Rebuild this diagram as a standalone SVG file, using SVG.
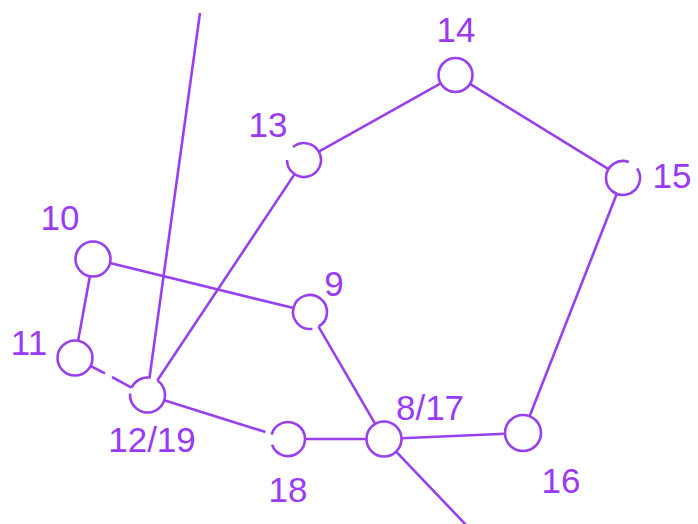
<svg xmlns="http://www.w3.org/2000/svg" width="698" height="524" viewBox="0 0 698 524">
<style>
.n{fill:none;stroke:#9840ec;stroke-width:2.6}
.e{fill:none;stroke:#9840ec;stroke-width:2.6}
.t{font-family:"Liberation Sans",Arial,sans-serif;font-size:35px;fill:#9a3af2;text-anchor:middle}
</style>
<rect width="698" height="524" fill="#ffffff"/>
<g id="connectors">
<line class="e" x1="200" y1="13" x2="149.5" y2="377.8"/>
<line class="e" x1="294.6" y1="174.1" x2="157.3" y2="380.5"/>
<line class="e" x1="318.8" y1="151.7" x2="440.7" y2="83.3"/>
<line class="e" x1="470" y1="83.9" x2="608.5" y2="169.1"/>
<line class="e" x1="616.8" y1="193.8" x2="529.6" y2="416.2"/>
<line class="e" x1="505" y1="433.8" x2="401.5" y2="438.2"/>
<line class="e" x1="375.2" y1="423.9" x2="318.5" y2="326.7"/>
<line class="e" x1="396.1" y1="451.6" x2="468" y2="527"/>
<line class="e" x1="305" y1="439" x2="366.5" y2="439"/>
<line class="e" x1="164.2" y1="400.2" x2="265.5" y2="432"/>
<line class="e" x1="110" y1="263.1" x2="293.5" y2="308"/>
<line class="e" x1="89.9" y1="276.2" x2="78.1" y2="340.8"/>
<line class="e" x1="90.6" y1="366" x2="105" y2="373.4"/>
<line class="e" x1="112" y1="377" x2="131.6" y2="387.6"/>
</g>
<g id="n14"><circle class="n" cx="455.5" cy="75" r="17"/><text class="t" x="456" y="42">14</text></g>
<g id="n13"><path class="n" d="M293.1,147 A17,17 0 1 1 287,160"/><text class="t" x="268" y="137">13</text></g>
<g id="n15"><path class="n" d="M637.1,168.5 A17,17 0 1 1 628.8,162"/><text class="t" x="672" y="188">15</text></g>
<g id="n10"><circle class="n" cx="93" cy="259" r="17.5"/><text class="t" x="60" y="230">10</text></g>
<g id="n11"><circle class="n" cx="75" cy="358" r="17.5"/><text class="t" x="29" y="355">11</text></g>
<g id="n9"><path class="n" d="M312.4,328.8 A17,17 0 1 1 318.5,326.7"/><text class="t" x="334" y="296">9</text></g>
<g id="n12_19"><path class="n" d="M157.3,380.5 A17.5,17.5 0 1 1 130.1,393.5"/><path class="n" d="M131.6,387.6 A17.5,17.5 0 0 1 150.5,377.8"/><text class="t" x="152" y="452">12/19</text></g>
<g id="n18"><path class="n" d="M271.6,434.6 A17,17 0 1 1 272,444.8"/><text class="t" x="288" y="502">18</text></g>
<g id="n8_17"><circle class="n" cx="384" cy="439" r="17.5"/><text class="t" x="430" y="420">8/17</text></g>
<g id="n16"><circle class="n" cx="523" cy="433" r="18"/><text class="t" x="561" y="493">16</text></g>
</svg>
